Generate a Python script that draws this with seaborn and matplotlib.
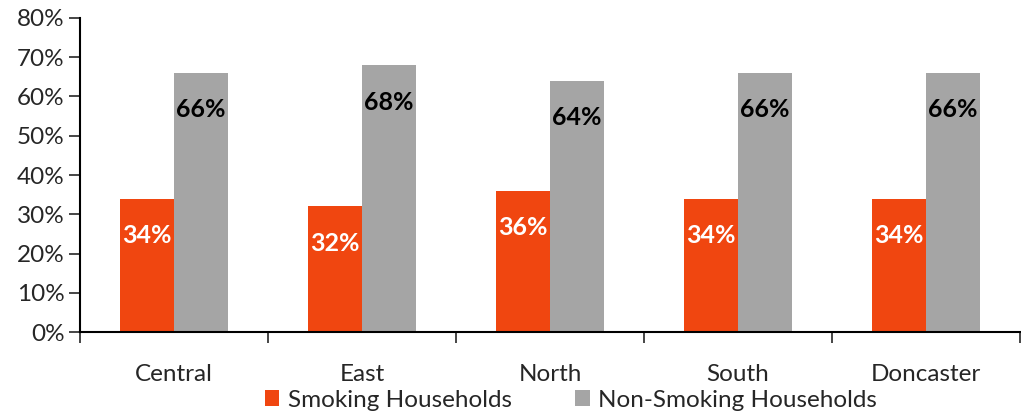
import pandas as pd
import seaborn as sns
import matplotlib.pyplot as plt
from matplotlib.ticker import PercentFormatter, FixedLocator

# data
regioes = ['Central', 'East', 'North', 'South', 'Doncaster']
fumantes = [34, 32, 36, 34, 34]
nao_fumantes = [66, 68, 64, 66, 66]
series = ['Smoking Households', 'Non-Smoking Households']
cores = ['#F04610', '#A5A5A5']

df = pd.DataFrame({
    'regiao': regioes * 2,
    'valor': fumantes + nao_fumantes,
    'serie': [series[0]] * len(regioes) + [series[1]] * len(regioes),
})

sns.set_style('white')
plt.rcParams['font.family'] = ['Lato', 'DejaVu Sans']

fig = plt.figure(figsize=(10.21, 4.15), dpi=100)
ax = fig.add_axes([80 / 1021, 1 - 332 / 415, 940 / 1021, 314 / 415])

sns.barplot(data=df, x='regiao', y='valor', hue='serie', palette=cores,
            width=0.57, saturation=1, linewidth=0, ax=ax)

# labels dentro das barras
for cont, cor in zip(ax.containers, ['white', 'black']):
    for barra in cont:
        h = barra.get_height()
        ax.annotate(f'{h:.0f}%', (barra.get_x() + barra.get_width() / 2, h),
                    xytext=(0, -37), textcoords='offset pixels',
                    ha='center', va='center', color=cor, fontsize=18, fontweight='bold')

ax.set_ylim(0, 80)
ax.set_xlim(-0.5, len(regioes) - 0.5)
ax.yaxis.set_major_locator(FixedLocator(range(0, 81, 10)))
ax.yaxis.set_major_formatter(PercentFormatter(decimals=0))
ax.set_xlabel('')
ax.set_ylabel('')

# ticks do eixo x entre categorias (estilo excel)
ax.set_xticks([i + 0.5 for i in range(-1, len(regioes))], minor=True)
ax.tick_params(axis='x', which='major', length=0, pad=23, labelsize=17.5)
ax.tick_params(axis='x', which='minor', length=8, width=1.2, direction='out', bottom=True)
ax.tick_params(axis='y', length=8, width=1.2, direction='out', left=True, labelsize=17.5, pad=3)

for lado in ['top', 'right']:
    ax.spines[lado].set_visible(False)
for lado in ['left', 'bottom']:
    ax.spines[lado].set_color('black')
    ax.spines[lado].set_linewidth(1.5)

handles, labels = ax.get_legend_handles_labels()
ax.get_legend().remove()
fig.legend(handles, labels, loc='center', bbox_to_anchor=(571 / 1021, 1 - 400 / 415),
           ncol=2, frameon=False, fontsize=17.5, handlelength=0.6, handleheight=0.6,
           handletextpad=0.35, columnspacing=2.6, borderpad=0)

fig.savefig('out.png', dpi=100)
